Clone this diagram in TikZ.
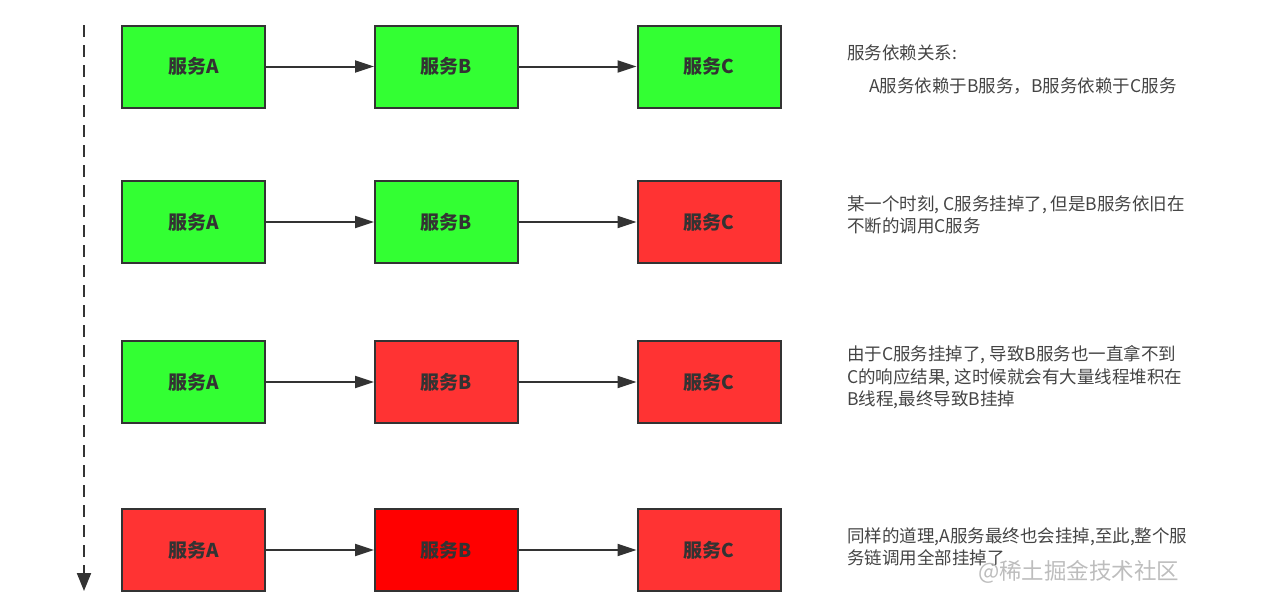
\documentclass[tikz,border=0pt]{standalone}
\usepackage{fontspec}
\setmainfont{Noto Sans CJK SC}
\usetikzlibrary{arrows.meta}
\definecolor{okgreen}{HTML}{33FF33}
\definecolor{failred}{HTML}{FF3333}
\definecolor{deepred}{HTML}{FF0000}
\definecolor{edge}{HTML}{333333}
\definecolor{note}{HTML}{444444}
\definecolor{wmark}{HTML}{BDBDBD}
\begin{document}
\begin{tikzpicture}[x=1pt,y=-1pt,
  svc/.style={draw=edge, line width=2pt, minimum width=143pt, minimum height=82pt,
    inner sep=0pt, text=edge, font=\bfseries\fontsize{19}{22}\selectfont},
  ok/.style={svc, fill=okgreen},
  bad/.style={svc, fill=failred},
  dead/.style={svc, fill=deepred},
  link/.style={draw=edge, line width=2pt, -{Triangle[length=19pt,width=12pt]}},
  notetext/.style={anchor=north west, align=left, inner sep=0pt, text=note,
    font=\fontsize{17.5}{22.5}\selectfont}
]
\useasboundingbox (0,0) rectangle (1269,611);

% time axis
\coordinate (t0) at (84,25);
\coordinate (t1) at (84,591);
\draw[draw=edge, line width=2pt, dash pattern=on 12pt off 8pt,
  -{Triangle[length=18pt,width=14pt]}] (t0) -- (t1);

% row 1
\node[ok] (a1) at (193.5,66.5) {服务A};
\node[ok] (b1) at (446.5,66.5) {服务B};
\node[ok] (c1) at (709,66.5) {服务C};
% row 2
\node[ok] (a2) at (193.5,222) {服务A};
\node[ok] (b2) at (446.5,222) {服务B};
\node[bad] (c2) at (709,222) {服务C};
% row 3
\node[ok] (a3) at (193.5,382) {服务A};
\node[bad] (b3) at (446.5,382) {服务B};
\node[bad] (c3) at (709,382) {服务C};
% row 4
\node[bad] (a4) at (193.5,550) {服务A};
\node[dead] (b4) at (446.5,550) {服务B};
\node[bad] (c4) at (709,550) {服务C};

\foreach \r in {1,2,3,4}{
  \draw[link] (a\r.east) -- (b\r.west);
  \draw[link] (b\r.east) -- (c\r.west);
}

% notes
\node[notetext] (n1) at (847,44.3) {服务依赖关系:};
\node[notetext] (n1b) at (869,77.3) {A服务依赖于B服务，B服务依赖于C服务};
\node[notetext] (n2) at (847,195.3) {某一个时刻, C服务挂掉了, 但是B服务依旧在\\不断的调用C服务};
\node[notetext] (n3) at (847,345.3) {由于C服务挂掉了, 导致B服务也一直拿不到\\C的响应结果, 这时候就会有大量线程堆积在\\B线程,最终导致B挂掉};
\node[notetext] (n4) at (847,527.3) {同样的道理,A服务最终也会挂掉,至此,整个服\\务链调用全部挂掉了};

% watermark
\node[anchor=west, inner sep=0pt, text=wmark, font=\fontsize{22.5}{24}\selectfont] (wm) at (978,572) {@稀土掘金技术社区};
\end{tikzpicture}
\end{document}
